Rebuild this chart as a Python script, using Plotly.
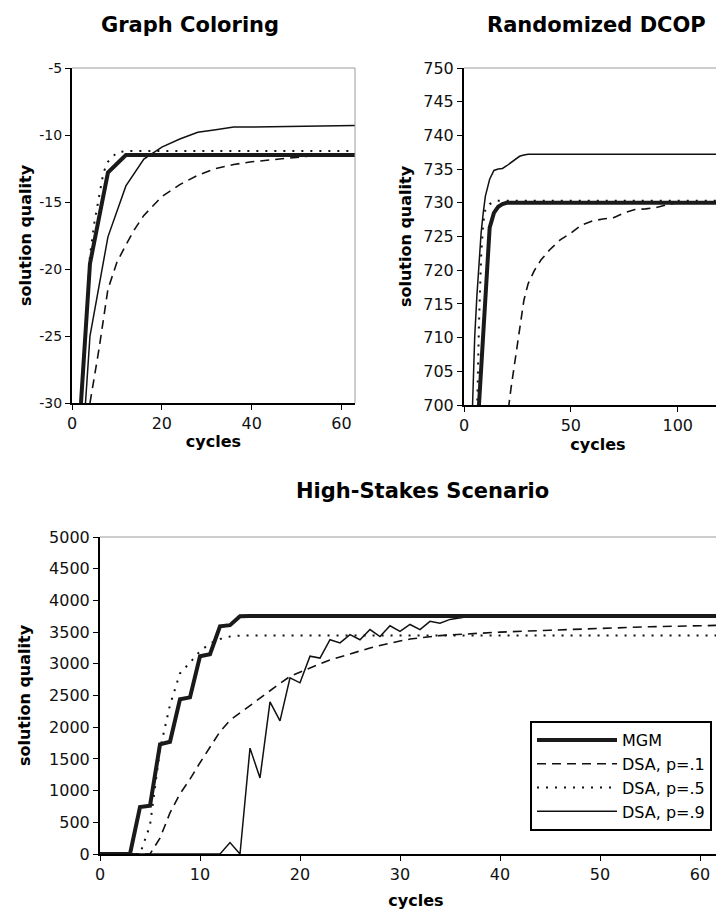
import plotly.graph_objects as go

# ---------------- Graph Coloring ----------------
gc_mgm_x = [2, 4, 8, 12, 63]
gc_mgm_y = [-30, -19.6, -12.8, -11.5, -11.5]
gc_p1_x = [4, 5, 6, 8, 10, 12, 14, 16, 20, 24, 28, 32, 36, 40, 44, 48, 52, 56, 60, 63]
gc_p1_y = [-30, -28, -26, -21.5, -19.5, -18.2, -17.0, -16.0, -14.6, -13.7, -13.0, -12.5,
           -12.2, -12.0, -11.85, -11.7, -11.6, -11.5, -11.45, -11.4]
gc_p5_x = [2, 3, 4, 5, 6, 7, 8, 10, 12, 63]
gc_p5_y = [-30, -24, -19, -16.5, -14.5, -12.8, -12.0, -11.3, -11.2, -11.2]
gc_p9_x = [3, 4, 8, 12, 16, 20, 24, 28, 32, 36, 40, 48, 63]
gc_p9_y = [-30, -25, -17.6, -13.8, -11.8, -10.9, -10.3, -9.8, -9.6, -9.4, -9.4, -9.35, -9.3]
gc_xticks = [0, 20, 40, 60]
gc_yticks = [-30, -25, -20, -15, -10, -5]
gc_yticktext = ["-30", "-25", "-20", "-15", "-10", "-5"]

# ---------------- Randomized DCOP ----------------
dc_mgm_x = [6, 7, 12, 14, 16, 18, 20, 125]
dc_mgm_y = [690, 700, 726.3, 728.5, 729.4, 729.8, 730, 730]
dc_p1_x = [20, 21, 22, 24, 26, 28, 30, 33, 36, 40, 45, 50, 55, 60, 65, 70, 75, 80, 85, 90, 95, 100, 125]
dc_p1_y = [695, 700, 702.5, 707, 711, 715.5, 718, 720, 721.5, 723, 724.5, 725.5, 726.7, 727.3,
           727.6, 727.8, 728.5, 729, 729.1, 729.3, 729.7, 730, 730]
dc_p5_x = [5, 6, 7, 8, 9, 10, 12, 15, 125]
dc_p5_y = [690, 697, 712, 722, 727, 729, 729.8, 730.3, 730.3]
dc_p9_x = [3, 4, 5, 6, 7, 8, 9, 10, 12, 14, 16, 18, 20, 22, 24, 26, 28, 30, 125]
dc_p9_y = [690, 700.5, 710, 716, 721, 725.5, 728.5, 731, 733.5, 734.8, 735, 735.1, 735.5,
           736, 736.5, 736.9, 737.1, 737.2, 737.2]
dc_xticks = [0, 50, 100]
dc_yticks = [700, 705, 710, 715, 720, 725, 730, 735, 740, 745, 750]

# ---------------- High-Stakes Scenario ----------------
hs_mgm_x = [0, 1, 2, 3, 4, 5, 6, 7, 8, 9, 10, 11, 12, 13, 14, 15, 63]
hs_mgm_y = [0, 0, 0, 0, 740, 760, 1730, 1770, 2440, 2470, 3120, 3150, 3590, 3610, 3750, 3755, 3755]
hs_p1_x = [0, 1, 2, 3, 4, 5, 6, 7, 8, 9, 10, 11, 12, 13, 14, 15, 16, 17, 18, 19, 20, 21, 22, 23,
           24, 25, 26, 27, 28, 29, 30, 31, 32, 33, 34, 35, 36, 38, 40, 45, 50, 55, 60, 63]
hs_p1_y = [0, 0, 0, 0, 0, 0, 250, 650, 950, 1180, 1440, 1690, 1930, 2110, 2220, 2340, 2460,
           2580, 2690, 2800, 2870, 2940, 3000, 3060, 3110, 3160, 3210, 3250, 3290, 3330, 3360,
           3390, 3410, 3430, 3445, 3455, 3465, 3480, 3500, 3530, 3560, 3585, 3600, 3610]
hs_p5_x = [0, 1, 2, 3, 4, 5, 6, 7, 8, 9, 10, 11, 12, 13, 14, 63]
hs_p5_y = [0, 0, 0, 0, 0, 450, 1650, 2350, 2850, 3020, 3200, 3320, 3390, 3430, 3445, 3445]
hs_p9_x = [0, 1, 2, 3, 4, 5, 6, 7, 8, 9, 10, 11, 12, 13, 14, 15, 16, 17, 18, 19, 20, 21, 22,
           23, 24, 25, 26, 27, 28, 29, 30, 31, 32, 33, 34, 35, 36, 37, 38, 63]
hs_p9_y = [0, 0, 0, 0, 0, 0, 0, 0, 0, 0, 0, 0, 0, 180, 0, 1670, 1200, 2400, 2100, 2780, 2700,
           3120, 3090, 3380, 3330, 3460, 3380, 3540, 3430, 3600, 3510, 3620, 3540, 3670, 3640,
           3700, 3720, 3750, 3755, 3755]
hs_xticks = [0, 10, 20, 30, 40, 50, 60]
hs_yticks = [0, 500, 1000, 1500, 2000, 2500, 3000, 3500, 4000, 4500, 5000]

series_names = ["MGM", "DSA, p=.1", "DSA, p=.5", "DSA, p=.9"]

# ---------------- styles ----------------
W, H = 724, 915
FONT = "DejaVu Sans"
styles = [
    dict(color="#1a1a1a", width=4),
    dict(color="#111111", width=1.6, dash="9px,6px"),
    dict(color="#111111", width=2, dash="2px,7px"),
    dict(color="#111111", width=1.5),
]

fig = go.Figure()

panels = [
    ("x", "y", [(gc_mgm_x, gc_mgm_y), (gc_p1_x, gc_p1_y), (gc_p5_x, gc_p5_y), (gc_p9_x, gc_p9_y)], False),
    ("x2", "y2", [(dc_mgm_x, dc_mgm_y), (dc_p1_x, dc_p1_y), (dc_p5_x, dc_p5_y), (dc_p9_x, dc_p9_y)], False),
    ("x3", "y3", [(hs_mgm_x, hs_mgm_y), (hs_p1_x, hs_p1_y), (hs_p5_x, hs_p5_y), (hs_p9_x, hs_p9_y)], True),
]
for xa, ya, data, show in panels:
    for i in [1, 2, 3, 0]:
        xs, ys = data[i]
        fig.add_trace(go.Scatter(
            x=xs, y=ys, mode="lines", name=series_names[i], line=styles[i],
            xaxis=xa, yaxis=ya, showlegend=show, legendgroup=series_names[i],
            legendrank=i + 1, hoverinfo="skip",
        ))


def px_x(p):
    return p / W


def px_y(p):
    return 1 - p / H


tick_font_small = dict(family=FONT, size=14, color="#111")
tick_font = dict(family=FONT, size=16, color="#111")
title_font = dict(family=FONT, size=16, color="#000", weight="bold")

common_x = dict(showgrid=False, zeroline=False, showline=True, linecolor="#000", linewidth=1.5,
                ticks="outside", ticklen=5, tickcolor="#000", tickfont=tick_font, automargin=False)
common_y = dict(showgrid=False, zeroline=False, showline=True, linecolor="#000", linewidth=2,
                ticks="outside", ticklen=5, tickcolor="#000", tickfont=tick_font, automargin=False)

fig.update_layout(
    width=W, height=H,
    margin=dict(l=0, r=0, t=0, b=0, autoexpand=False),
    paper_bgcolor="white", plot_bgcolor="white",
    font=dict(family=FONT, color="#000"),
    xaxis=dict(common_x, domain=[px_x(64), px_x(347)], range=[0, 63], tickvals=gc_xticks,
               anchor="y", title=dict(text="cycles", font=title_font, standoff=4)),
    yaxis=dict(common_y, domain=[px_y(395), px_y(60)], range=[-30, -5], tickvals=gc_yticks,
               ticktext=gc_yticktext, tickfont=tick_font_small, anchor="x",
               title=dict(text="solution quality", font=title_font, standoff=4)),
    xaxis2=dict(common_x, domain=[px_x(456), 1.0], range=[0, 125.4], tickvals=dc_xticks,
                anchor="y2", title=dict(text="cycles", font=title_font, standoff=4)),
    yaxis2=dict(common_y, domain=[px_y(397), px_y(60)], range=[700, 750], tickvals=dc_yticks,
                anchor="x2", title=dict(text="solution quality", font=title_font, standoff=8)),
    xaxis3=dict(common_x, domain=[px_x(92), 1.0], range=[0, 63.2], tickvals=hs_xticks,
                anchor="y3", title=dict(text="cycles", font=title_font, standoff=12)),
    yaxis3=dict(common_y, domain=[px_y(846), px_y(529)], range=[0, 5000], tickvals=hs_yticks,
                anchor="x3", title=dict(text="solution quality", font=title_font, standoff=14)),
    legend=dict(x=px_x(522), y=px_y(713), xanchor="left", yanchor="top",
                bgcolor="white", bordercolor="#000", borderwidth=2,
                font=dict(family=FONT, size=16, color="#000"),
                itemwidth=80, tracegroupgap=8, traceorder="normal"),
    showlegend=True,
)

border = dict(color="#9a9a9a", width=1)
shapes = [
    dict(type="line", xref="x domain", yref="y domain", x0=0, x1=1, y0=1, y1=1, line=border),
    dict(type="line", xref="x domain", yref="y domain", x0=1, x1=1, y0=0, y1=1, line=border),
    dict(type="line", xref="x2 domain", yref="y2 domain", x0=0, x1=1, y0=1, y1=1, line=border),
    dict(type="line", xref="x3 domain", yref="y3 domain", x0=0, x1=1, y0=1, y1=1, line=border),
]
fig.update_layout(shapes=shapes)

titles = [("Graph Coloring", 182, 17), ("Randomized DCOP", 588, 17), ("High-Stakes Scenario", 414, 483)]
for text, cx, cy in titles:
    fig.add_annotation(text=text, x=px_x(cx), y=px_y(cy), xref="paper", yref="paper",
                       xanchor="center", yanchor="middle", showarrow=False,
                       font=dict(family=FONT, size=21, color="#000", weight="bold"))

fig.write_html("out.html")
